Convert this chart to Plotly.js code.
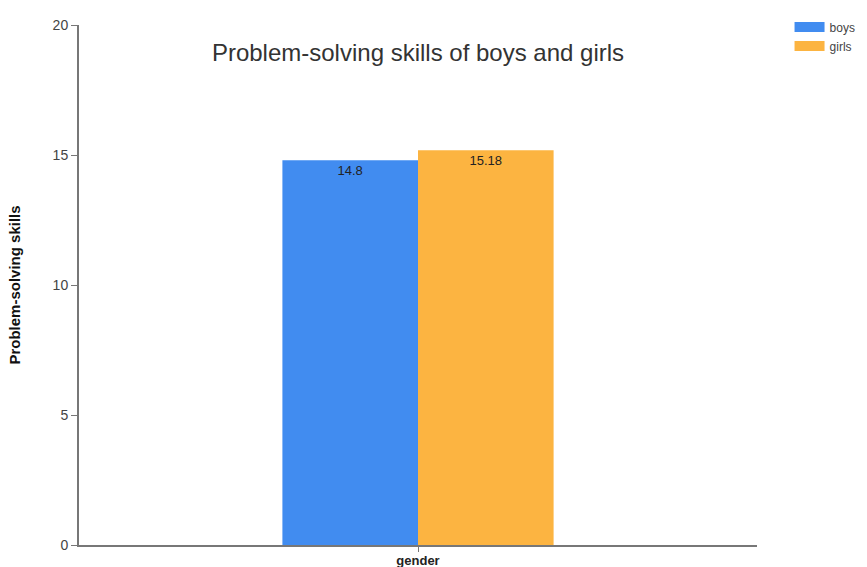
<!DOCTYPE html>
<html>
<head>
<meta charset="utf-8">
<script src="https://cdn.plot.ly/plotly-3.0.1.min.js"></script>
<style>html,body{margin:0;padding:0;background:#fff;}#chart{width:867px;height:567px;}</style>
</head>
<body>
<div id="chart"></div>
<script>
// Problem-solving scores by gender
const categories = ['gender'];
const seriesNames = ['boys', 'girls'];
const boysValues = [14.8];
const girlsValues = [15.18];
const yTicks = [0, 5, 10, 15, 20];

const colors = ['#418CF0', '#FCB441'];
const values = [boysValues, girlsValues];
const baseFont = 'Liberation Sans, Arial, sans-serif';

// the bars themselves
const barTraces = seriesNames.map((name, i) => ({
  type: 'bar',
  name: name,
  legendgroup: name,
  showlegend: false,
  x: categories,
  y: values[i],
  text: values[i].map(v => String(v)),
  textposition: 'inside',
  insidetextanchor: 'end',
  textangle: 0,
  textfont: {family: baseFont, size: 13, color: '#222'},
  marker: {color: colors[i], line: {width: 0}},
  hoverinfo: 'none'
}));

// wide rectangular legend swatches
const legendTraces = seriesNames.map((name, i) => ({
  type: 'scatter',
  mode: 'lines',
  name: name,
  legendgroup: name,
  x: [null],
  y: [null],
  line: {color: colors[i], width: 11},
  hoverinfo: 'none'
}));

const layout = {
  width: 867,
  height: 567,
  margin: {l: 79, r: 110, t: 25, b: 22, autoexpand: false},
  paper_bgcolor: '#fff',
  plot_bgcolor: '#fff',
  font: {family: baseFont, color: '#333'},
  title: {
    text: 'Problem-solving skills of boys and girls',
    font: {size: 24, color: '#333'},
    xref: 'paper', x: 0.5, xanchor: 'center',
    yref: 'container', y: 0.907, yanchor: 'middle'
  },
  barmode: 'group',
  bargap: 0.6,
  bargroupgap: 0,
  showlegend: true,
  legend: {
    x: 1.048, xanchor: 'left',
    yref: 'container', y: 0.978, yanchor: 'top',
    font: {size: 12, color: '#444'},
    itemwidth: 30,
    tracegroupgap: 0, itemclick: false
  },
  xaxis: {
    type: 'category',
    showgrid: false,
    zeroline: false,
    showline: true, linecolor: '#777', linewidth: 2,
    ticks: 'outside', ticklen: 5, tickcolor: '#777', tickwidth: 1,
    ticklabelstandoff: -3,
    tickfont: {size: 13, color: '#222', family: baseFont, weight: 'bold'},
    fixedrange: true
  },
  yaxis: {
    range: [0, 20],
    tickvals: yTicks,
    ticktext: yTicks.map(String),
    showgrid: false,
    zeroline: false,
    showline: true, linecolor: '#777', linewidth: 2,
    ticks: 'outside', ticklen: 6, tickcolor: '#777', tickwidth: 1,
    tickfont: {size: 14, color: '#444'},
    title: {
      text: 'Problem-solving skills',
      font: {size: 15, color: '#111', weight: 'bold'},
      standoff: 28
    },
    fixedrange: true
  }
};

Plotly.newPlot('chart', barTraces.concat(legendTraces), layout, {displayModeBar: false, staticPlot: true});
</script>
</body>
</html>
